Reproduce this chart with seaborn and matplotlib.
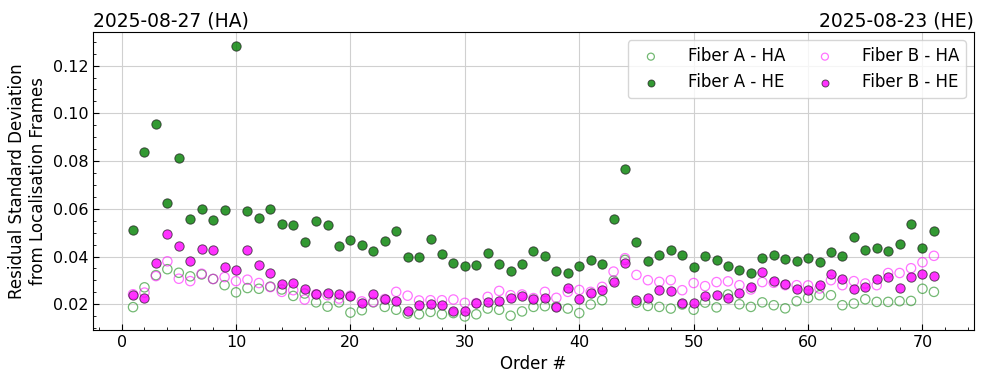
import numpy as np
import pandas as pd
import matplotlib
matplotlib.use("Agg")
import matplotlib.pyplot as plt
import seaborn as sns
from matplotlib.ticker import MultipleLocator

# Orders 1..71
orders = list(range(1, 72))

fiber_a_ha = [0.0188, 0.0271, 0.0322, 0.0347, 0.0332, 0.0317, 0.0325, 0.0306, 0.0280, 0.0250,
              0.0268, 0.0265, 0.0274, 0.0262, 0.0235, 0.0245, 0.0208, 0.0190, 0.0208, 0.0165,
              0.0175, 0.0208, 0.0189, 0.0177, 0.0161, 0.0158, 0.0168, 0.0158, 0.0163, 0.0149,
              0.0158, 0.0182, 0.0177, 0.0152, 0.0170, 0.0189, 0.0192, 0.0190, 0.0182, 0.0163,
              0.0199, 0.0217, 0.0299, 0.0386, 0.0206, 0.0193, 0.0189, 0.0182, 0.0199, 0.0177,
              0.0207, 0.0187, 0.0241, 0.0200, 0.0189, 0.0208, 0.0196, 0.0183, 0.0213, 0.0227,
              0.0238, 0.0238, 0.0196, 0.0203, 0.0221, 0.0210, 0.0210, 0.0213, 0.0214, 0.0265,
              0.0252]

fiber_a_he = [0.0510, 0.0837, 0.0955, 0.0623, 0.0812, 0.0556, 0.0598, 0.0553, 0.0594, 0.1284,
              0.0589, 0.0560, 0.0598, 0.0536, 0.0532, 0.0461, 0.0549, 0.0532, 0.0443, 0.0468,
              0.0447, 0.0425, 0.0464, 0.0506, 0.0400, 0.0398, 0.0473, 0.0409, 0.0372, 0.0361,
              0.0365, 0.0414, 0.0368, 0.0339, 0.0368, 0.0424, 0.0401, 0.0339, 0.0330, 0.0359,
              0.0386, 0.0368, 0.0558, 0.0765, 0.0461, 0.0382, 0.0406, 0.0428, 0.0406, 0.0356,
              0.0401, 0.0386, 0.0361, 0.0344, 0.0330, 0.0394, 0.0407, 0.0390, 0.0382, 0.0394,
              0.0377, 0.0420, 0.0403, 0.0482, 0.0428, 0.0437, 0.0424, 0.0454, 0.0538, 0.0437,
              0.0508]

fiber_b_ha = [0.0242, 0.0249, 0.0318, 0.0380, 0.0307, 0.0297, 0.0328, 0.0306, 0.0314, 0.0297,
              0.0303, 0.0289, 0.0272, 0.0252, 0.0259, 0.0220, 0.0242, 0.0238, 0.0224, 0.0236,
              0.0212, 0.0210, 0.0222, 0.0252, 0.0236, 0.0216, 0.0217, 0.0217, 0.0220, 0.0206,
              0.0205, 0.0231, 0.0256, 0.0238, 0.0241, 0.0226, 0.0252, 0.0227, 0.0252, 0.0260,
              0.0252, 0.0273, 0.0337, 0.0393, 0.0323, 0.0301, 0.0294, 0.0301, 0.0259, 0.0289,
              0.0276, 0.0293, 0.0296, 0.0280, 0.0262, 0.0293, 0.0290, 0.0280, 0.0280, 0.0279,
              0.0266, 0.0301, 0.0280, 0.0297, 0.0287, 0.0280, 0.0331, 0.0331, 0.0351, 0.0376,
              0.0403]

fiber_b_he = [0.0238, 0.0228, 0.0374, 0.0494, 0.0443, 0.0383, 0.0430, 0.0426, 0.0358, 0.0345,
              0.0426, 0.0363, 0.0333, 0.0284, 0.0291, 0.0262, 0.0242, 0.0249, 0.0241, 0.0236,
              0.0205, 0.0241, 0.0223, 0.0213, 0.0173, 0.0199, 0.0200, 0.0195, 0.0172, 0.0173,
              0.0204, 0.0208, 0.0213, 0.0227, 0.0234, 0.0224, 0.0225, 0.0190, 0.0268, 0.0222,
              0.0249, 0.0259, 0.0293, 0.0372, 0.0220, 0.0225, 0.0258, 0.0255, 0.0206, 0.0207,
              0.0234, 0.0238, 0.0228, 0.0249, 0.0272, 0.0335, 0.0296, 0.0283, 0.0262, 0.0258,
              0.0279, 0.0327, 0.0304, 0.0266, 0.0272, 0.0304, 0.0314, 0.0270, 0.0314, 0.0325,
              0.0318]

sns.set_style("ticks")
plt.rcParams['font.family'] = ['DejaVu Sans']
plt.rcParams['xtick.direction'] = 'in'
plt.rcParams['ytick.direction'] = 'in'
plt.rcParams['text.color'] = 'black'
plt.rcParams['axes.labelcolor'] = 'black'
plt.rcParams['xtick.color'] = 'black'
plt.rcParams['ytick.color'] = 'black'
plt.rcParams['axes.edgecolor'] = 'black'

fig, ax = plt.subplots(figsize=(9.84, 3.83), dpi=100)
fig.subplots_adjust(left=0.0945, right=0.9898, top=0.9164, bottom=0.1384)

# open markers = HA, filled = HE
sns.scatterplot(x=orders, y=fiber_a_ha, ax=ax, s=45, marker='o', facecolor='none',
                edgecolor=(0.0, 0.5, 0.0, 0.55), linewidth=0.9, label='Fiber A - HA')
sns.scatterplot(x=orders, y=fiber_a_he, ax=ax, s=45, marker='o', facecolor=(0.0, 0.5, 0.0, 0.8),
                edgecolor=(0.1, 0.1, 0.1, 0.7), linewidth=0.7, label='Fiber A - HE')
sns.scatterplot(x=orders, y=fiber_b_ha, ax=ax, s=45, marker='o', facecolor='none',
                edgecolor=(1.0, 0.0, 1.0, 0.55), linewidth=0.9, label='Fiber B - HA')
sns.scatterplot(x=orders, y=fiber_b_he, ax=ax, s=45, marker='o', facecolor=(1.0, 0.0, 1.0, 0.8),
                edgecolor=(0.1, 0.1, 0.1, 0.7), linewidth=0.7, label='Fiber B - HE')

ax.grid(True, which='major', color='#d0d0d0', linewidth=0.8)
ax.set_axisbelow(True)
ax.xaxis.set_minor_locator(MultipleLocator(2))
ax.yaxis.set_minor_locator(MultipleLocator(0.005))
ax.tick_params(axis='both', which='major', labelsize=11.5, length=4, colors='black')
ax.tick_params(axis='both', which='minor', length=2.5, colors='black')
for sp in ax.spines.values():
    sp.set_visible(True)
    sp.set_color('black')

ax.set_xlabel('Order #', fontsize=12)
ax.set_ylabel('Residual Standard Deviation\nfrom Localisation Frames', fontsize=12)
ax.set_title('2025-08-27 (HA)', loc='left', fontsize=13.5, pad=4)
ax.set_title('2025-08-23 (HE)', loc='right', fontsize=13.5, pad=4)

ax.legend(loc='upper right', ncol=2, fontsize=12, frameon=True, markerscale=0.75,
          columnspacing=1.4, handletextpad=1.2, edgecolor='#cccccc', framealpha=0.8)

fig.savefig('out.png', dpi=100)
